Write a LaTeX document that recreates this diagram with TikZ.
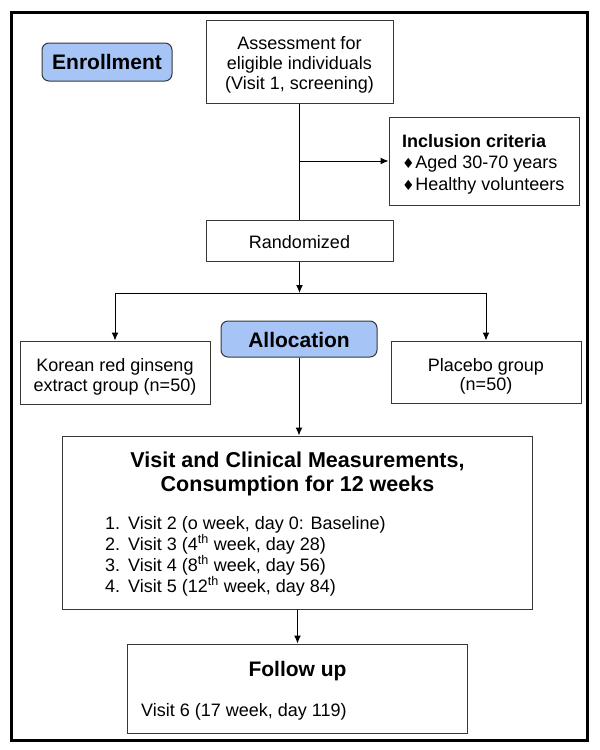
\documentclass[tikz,border=0pt]{standalone}
\usepackage{fontspec}
\setmainfont{Liberation Sans}
\newfontfamily\symfont{DejaVu Sans}
\usetikzlibrary{arrows.meta}
\definecolor{boxblue}{RGB}{166,196,245}
\definecolor{edge}{RGB}{55,55,55}
\begin{document}
\begin{tikzpicture}[x=1pt,y=-1pt,
  pbox/.style={draw=edge,line width=1pt,inner sep=0pt,fill=white},
  rbox/.style={draw=edge,line width=1pt,inner sep=0pt,fill=boxblue,rounded corners=7pt},
  txt/.style={inner sep=0pt,font=\fontsize{18}{21}\selectfont},
  btxt/.style={inner sep=0pt,font=\bfseries\fontsize{21}{24}\selectfont},
  htxt/.style={inner sep=0pt,font=\bfseries\fontsize{21.5}{24}\selectfont},
  itxt/.style={inner sep=0pt,font=\bfseries\fontsize{18}{21}\selectfont},
  conn/.style={line width=1pt,black},
  arr/.style={conn,-{Latex[length=8pt,width=7pt]}}]
\useasboundingbox (0,0) rectangle (600,750);
\draw[line width=3pt] (11,12.5) rectangle (587,740);

% boxes
\node[rbox,minimum width=130pt,minimum height=38pt] (enr) at (107,62) {};
\node[btxt,anchor=base] (enrT) at (107,69.5) {Enrollment};

\node[pbox,minimum width=187pt,minimum height=83pt] (assess) at (299.5,61.5) {};
\node[txt,anchor=base] (as1) at (299.5,49) {Assessment for};
\node[txt,anchor=base] (as2) at (299.5,69.5) {eligible individuals};
\node[txt,anchor=base] (as3) at (299.5,89) {(Visit 1, screening)};

\node[pbox,minimum width=190pt,minimum height=88pt] (incl) at (484,161) {};
\node[itxt,anchor=base west] (in1) at (402,147) {Inclusion criteria};
\node[txt,anchor=base west] (in2) at (402,168) {{\symfont\fontsize{14}{14}\selectfont ♦}\hspace{0.5pt}Aged 30-70 years};
\node[txt,anchor=base west] (in3) at (402,190) {{\symfont\fontsize{14}{14}\selectfont ♦}\hspace{0.5pt}Healthy volunteers};

\node[pbox,minimum width=187pt,minimum height=41pt] (rand) at (299.5,240.5) {};
\node[txt,anchor=base] (randT) at (299.5,248) {Randomized};

\node[rbox,minimum width=156pt,minimum height=36pt] (alloc) at (299,339) {};
\node[btxt,anchor=base] (allocT) at (299,347) {Allocation};

\node[pbox,minimum width=190pt,minimum height=63pt] (kor) at (115,372.5) {};
\node[txt,anchor=base] (kor1) at (115,371) {Korean red ginseng};
\node[txt,anchor=base] (kor2) at (115,391) {extract group (n=50)};

\node[pbox,minimum width=190pt,minimum height=62pt] (plac) at (486,372) {};
\node[txt,anchor=base] (pl1) at (486,371) {Placebo group};
\node[txt,anchor=base] (pl2) at (486,390) {(n=50)};

\node[pbox,minimum width=470pt,minimum height=173pt] (visit) at (297.5,522.5) {};
\node[htxt,anchor=base] (vh1) at (297.5,467) {Visit and Clinical Measurements,};
\node[htxt,anchor=base] (vh2) at (297.5,491) {Consumption for 12 weeks};
\node[txt,anchor=base west] (vn1) at (105,529) {1.};
\node[txt,anchor=base west] (vl1) at (128,529) {Visit 2 (o week, day 0: Baseline)};
\node[txt,anchor=base west] (vn2) at (105,550) {2.};
\node[txt,anchor=base west] (vl2) at (128,550) {Visit 3 (4\textsuperscript{th} week, day 28)};
\node[txt,anchor=base west] (vn3) at (105,571) {3.};
\node[txt,anchor=base west] (vl3) at (128,571) {Visit 4 (8\textsuperscript{th} week, day 56)};
\node[txt,anchor=base west] (vn4) at (105,592) {4.};
\node[txt,anchor=base west] (vl4) at (128,592) {Visit 5 (12\textsuperscript{th} week, day 84)};

\node[pbox,minimum width=340pt,minimum height=89pt] (follow) at (297.5,688.5) {};
\node[btxt,anchor=base] (fh) at (297.5,676) {Follow up};
\node[txt,anchor=base west] (fl) at (141,716) {Visit 6 (17 week, day 119)};

% connectors
\coordinate (br) at (assess.south |- incl.west);
\coordinate (jn) at (299.5,293);
\draw[conn] (assess.south) -- (rand.north);
\draw[arr] (br) -- (incl.west);
\draw[arr] (rand.south) -- (jn);
\draw[arr] (jn) -| (kor.north);
\draw[arr] (jn) -| (plac.north);
\draw[arr] (alloc.south) -- (alloc.south |- visit.north);
\draw[arr] (visit.south) -- (follow.north);
\end{tikzpicture}
\end{document}
